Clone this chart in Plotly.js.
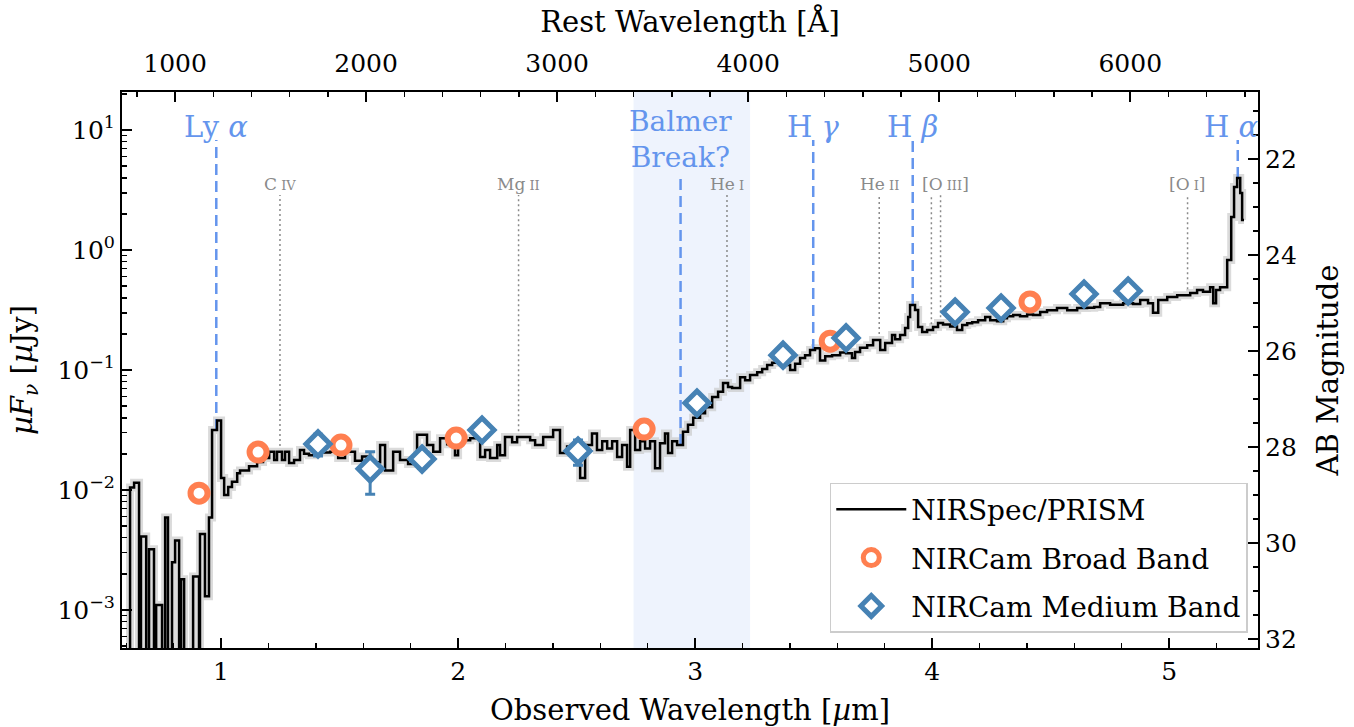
<!DOCTYPE html>
<html>
<head>
<meta charset="utf-8">
<script src="https://cdn.plot.ly/plotly-3.0.1.min.js"></script>
<style>html,body{margin:0;padding:0;background:#fff}#chart{width:1354px;height:727px}</style>
</head>
<body>
<div id="chart"></div>
<script>
// ---------------- data ----------------
const redshift = 7.06;

// NIRSpec/PRISM spectrum (observed wavelength in micron, flux in microJy), step starts
const specWave = [
  0.582, 0.616, 0.633, 0.654, 0.662, 0.684, 0.696, 0.717, 0.726, 0.751,
  0.764, 0.776, 0.793, 0.806, 0.823, 0.831, 0.844, 0.882, 0.907, 0.911,
  0.932, 0.949, 0.962, 0.983, 1.000, 1.013, 1.030, 1.046, 1.068, 1.080,
  1.118, 1.152, 1.177, 1.203, 1.224, 1.236, 1.257, 1.270, 1.287, 1.308,
  1.333, 1.350, 1.371, 1.397, 1.426, 1.460, 1.494, 1.523, 1.565, 1.595,
  1.629, 1.671, 1.692, 1.726, 1.755, 1.789, 1.827, 1.869, 1.895, 1.924,
  1.954, 1.987, 2.000, 2.051, 2.093, 2.114, 2.135, 2.165, 2.177, 2.198,
  2.228, 2.249, 2.304, 2.325, 2.359, 2.401, 2.430, 2.460, 2.494, 2.515,
  2.536, 2.565, 2.586, 2.608, 2.629, 2.650, 2.671, 2.692, 2.713, 2.726,
  2.747, 2.768, 2.789, 2.810, 2.831, 2.852, 2.873, 2.886, 2.903, 2.924,
  2.949, 2.970, 2.992, 3.021, 3.042, 3.072, 3.097, 3.118, 3.139, 3.156,
  3.190, 3.211, 3.232, 3.262, 3.283, 3.304, 3.325, 3.359, 3.380, 3.401,
  3.422, 3.443, 3.464, 3.485, 3.506, 3.527, 3.549, 3.578, 3.612, 3.637,
  3.662, 3.675, 3.696, 3.726, 3.751, 3.781, 3.802, 3.831, 3.844, 3.865,
  3.886, 3.899, 3.907, 3.928, 3.941, 3.958, 3.979, 4.004, 4.025, 4.046,
  4.076, 4.105, 4.127, 4.148, 4.169, 4.194, 4.224, 4.245, 4.274, 4.300,
  4.316, 4.342, 4.371, 4.401, 4.426, 4.456, 4.485, 4.527, 4.570, 4.612,
  4.654, 4.684, 4.709, 4.751, 4.806, 4.848, 4.878, 4.911, 4.932, 4.954,
  4.992, 5.034, 5.089, 5.118, 5.143, 5.173, 5.186, 5.198, 5.215, 5.245,
  5.262, 5.274, 5.287, 5.300, 5.308, 5.316
];
const specFlux = [
  1e-5, 0.0105, 0.0115, 1e-5, 0.0041, 1e-5, 0.0032, 1e-5, 0.0011, 1e-5,
  0.0059, 1e-5, 0.0025, 0.0038, 1e-5, 0.0018, 1e-5, 0.0019, 1e-5, 0.0043,
  0.0013, 0.0059, 0.0316, 0.0380, 0.0126, 0.0091, 0.0106, 0.0117, 0.0138, 0.0145,
  0.0158, 0.0171, 0.0185, 0.0208, 0.0178, 0.0208, 0.0178, 0.0208, 0.0168, 0.0178,
  0.0215, 0.0200, 0.0195, 0.0210, 0.0205, 0.0208, 0.0185, 0.0208, 0.0175, 0.0190,
  0.0170, 0.0237, 0.0145, 0.0208, 0.0178, 0.0165, 0.0288, 0.0237, 0.0208, 0.0270,
  0.0240, 0.0195, 0.0260, 0.0270, 0.0188, 0.0215, 0.0185, 0.0237, 0.0195, 0.0276,
  0.0250, 0.0276, 0.0260, 0.0237, 0.0276, 0.0316, 0.0203, 0.0230, 0.0215, 0.0126,
  0.0237, 0.0296, 0.0215, 0.0255, 0.0222, 0.0255, 0.0188, 0.0237, 0.0156, 0.0316,
  0.0215, 0.0255, 0.0222, 0.0255, 0.0152, 0.0245, 0.0296, 0.0203, 0.0255, 0.0237,
  0.0306, 0.0350, 0.0400, 0.0437, 0.0490, 0.0596, 0.0660, 0.0780, 0.0720, 0.0708,
  0.0870, 0.0820, 0.0910, 0.0960, 0.1020, 0.1100, 0.1150, 0.1200, 0.1100, 0.1000,
  0.1130, 0.1260, 0.1330, 0.1470, 0.1520, 0.1200, 0.1300, 0.1330, 0.1400, 0.1380,
  0.1260, 0.1410, 0.1530, 0.1610, 0.1780, 0.1470, 0.1680, 0.1960, 0.1800, 0.1960,
  0.2240, 0.2770, 0.3480, 0.3160, 0.2280, 0.2070, 0.2150, 0.2280, 0.2460, 0.2400,
  0.2300, 0.2150, 0.2370, 0.2450, 0.2500, 0.2600, 0.2770, 0.2600, 0.2550, 0.2700,
  0.2800, 0.2880, 0.2800, 0.2900, 0.2880, 0.3040, 0.3150, 0.3290, 0.3150, 0.3290,
  0.3300, 0.3350, 0.3600, 0.3500, 0.3600, 0.3550, 0.3830, 0.3600, 0.3000, 0.3830,
  0.4060, 0.4200, 0.4380, 0.4640, 0.4500, 0.4900, 0.3600, 0.4640, 0.4900, 0.8250,
  1.8800, 3.3500, 3.9800, 2.9900, 1.7800, 1.7800
];

// NIRCam broad-band photometry
const bbWave = [0.907, 1.156, 1.506, 1.992, 2.785, 3.570, 4.413];
const bbFlux = [0.0094, 0.0207, 0.0237, 0.0271, 0.0322, 0.174, 0.369];

// NIRCam medium-band photometry
const mbWave = [1.409, 1.629, 1.848, 2.101, 2.506, 3.008, 3.371, 3.637, 4.097, 4.291, 4.641, 4.827];
const mbFlux = [0.0242, 0.0150, 0.0181, 0.0316, 0.0211, 0.053, 0.133, 0.185, 0.304, 0.329, 0.430, 0.455];
const mbErr  = [0.005, 0.0058, 0.003, 0.003, 0.005, 0.004, 0.006, 0.008, 0.010, 0.010, 0.012, 0.012];

// Strong features (rest-frame Angstrom)
const strongNames = ['Ly <i>α</i>', 'Balmer<br>Break?', 'H <i>γ</i>', 'H <i>β</i>', 'H <i>α</i>'];
const strongRest  = [1215.67, 3646.0, 4340.47, 4861.33, 6562.8];

// Weak lines (rest-frame Angstrom)
const weakRest = [1549.0, 2798.0, 3889.0, 4686.0, 4959.0, 5007.0, 6300.0];
const weakLabels = ['C IV', 'Mg II', 'He I', 'He II', '[O III]', '[O I]'];
const weakLabelRest = [1549.0, 2798.0, 3889.0, 4686.0, 5007.0, 6300.0];

// Shaded Balmer break region (rest-frame Angstrom)
const balmerRegionRest = [3400, 4010];

// ---------------- helpers ----------------
const zf = 1 + redshift;
const obs = r => r * zf / 1e4;
function fluxAt(l) {
  let v = specFlux[0];
  for (let i = 0; i < specWave.length; i++) { if (specWave[i] <= l) v = specFlux[i]; }
  return v;
}
function smallCaps(label) {
  const m = label.match(/^(\[?[A-Za-z]+?)\s([IV]+)(\]?)$/);
  if (!m) return label;
  return m[1] + '<span style="font-size:13px"> ' + m[2] + '</span>' + m[3];
}

const xRange = [0.582, 5.375];
const yLogRange = [-3.317, 1.317];
const restRange = xRange.map(v => v / zf * 1e4);
const magRange = yLogRange.map(v => 23.9 - 2.5 * v);

const serif = 'DejaVu Serif';
const blue = '#6495ED';
const grey = '#8a8a8a';

const traces = [];

// error band (grey, behind)
traces.push({
  x: specWave, y: specFlux, type: 'scatter', mode: 'lines',
  line: {shape: 'hv', color: 'rgba(200,200,200,0.65)', width: 8},
  hoverinfo: 'skip', showlegend: false
});

// strong line markers
strongRest.forEach((r, i) => {
  const l = obs(r);
  const top = (i === 1) ? Math.pow(10, 0.608) : Math.pow(10, 0.917);
  traces.push({
    x: [l, l], y: [fluxAt(l), top], type: 'scatter', mode: 'lines',
    line: {color: blue, width: 2.5, dash: '11px,6px'},
    hoverinfo: 'skip', showlegend: false
  });
});
// weak line markers
weakRest.forEach(r => {
  const l = obs(r);
  traces.push({
    x: [l, l], y: [fluxAt(l) * 1.12, Math.pow(10, 0.458)], type: 'scatter', mode: 'lines',
    line: {color: grey, width: 1.5, dash: '2px,3px'},
    hoverinfo: 'skip', showlegend: false
  });
});

// spectrum
traces.push({
  x: specWave, y: specFlux, type: 'scatter', mode: 'lines', name: 'NIRSpec/PRISM',
  line: {shape: 'hv', color: 'black', width: 2.5}, legendgroup: 'a'
});
// broad band
traces.push({
  x: bbWave, y: bbFlux, type: 'scatter', mode: 'markers', name: 'NIRCam Broad Band',
  marker: {symbol: 'circle', size: 17, color: 'white', line: {color: '#ff7f50', width: 6}},
  legendgroup: 'b'
});
// medium band
traces.push({
  x: mbWave, y: mbFlux, type: 'scatter', mode: 'markers', name: 'NIRCam Medium Band',
  marker: {symbol: 'diamond', size: 18.5, color: 'white', line: {color: '#4682b4', width: 5}},
  error_y: {type: 'data', array: mbErr, color: '#4682b4', thickness: 3, width: 5},
  legendgroup: 'c'
});
// invisible trace for secondary axes
traces.push({
  x: restRange, y: magRange, xaxis: 'x2', yaxis: 'y2', type: 'scatter', mode: 'markers',
  marker: {opacity: 0}, hoverinfo: 'skip', showlegend: false
});

const annotations = [];
strongRest.forEach((r, i) => {
  annotations.push({
    x: obs(r) + (i === 4 ? -0.03 : 0), y: (i === 1) ? 0.917 : 1.025, xref: 'x', yref: 'y', text: strongNames[i],
    showarrow: false, xanchor: 'center', yanchor: 'middle',
    font: {family: serif, size: (i === 1) ? 28 : 29, color: blue}
  });
});
weakLabelRest.forEach((r, i) => {
  annotations.push({
    x: obs(r) + (i === 4 ? 0.02 : 0), y: 0.55, xref: 'x', yref: 'y', text: smallCaps(weakLabels[i]),
    showarrow: false, xanchor: 'center', yanchor: 'middle',
    font: {family: serif, size: 17, color: grey}
  });
});

const axisCommon = {
  showline: true, linewidth: 2, linecolor: 'black', mirror: false,
  showgrid: false, zeroline: false, ticks: 'inside', ticklen: 10, tickwidth: 2, tickcolor: 'black',
  tickfont: {family: serif, size: 25, color: 'black'}
};
const minorCommon = {ticks: 'inside', ticklen: 5, tickwidth: 1.5, tickcolor: 'black', showgrid: false};

const layout = {
  width: 1354, height: 727,
  margin: {l: 122, r: 96, t: 92, b: 79},
  paper_bgcolor: 'white', plot_bgcolor: 'white',
  font: {family: serif, color: 'black', size: 25},
  showlegend: true,
  hovermode: false,
  xaxis: Object.assign({}, axisCommon, {
    range: xRange, tick0: 0, dtick: 1,
    minor: Object.assign({dtick: 0.2}, minorCommon),
    title: {text: 'Observed Wavelength [<i>µ</i>m]', font: {family: serif, size: 29}, standoff: 20}
  }),
  xaxis2: Object.assign({}, axisCommon, {
    overlaying: 'x', side: 'top', anchor: 'y', range: restRange, tick0: 0, dtick: 1000,
    ticklabelstandoff: 8,
    minor: Object.assign({dtick: 200}, minorCommon),
    title: {text: 'Rest Wavelength [Å]', font: {family: serif, size: 29}, standoff: 8}
  }),
  yaxis: Object.assign({}, axisCommon, {
    type: 'log', range: yLogRange,
    tickmode: 'array',
    tickvals: [0.001, 0.01, 0.1, 1, 10],
    ticktext: ['10<sup>−3</sup>', '10<sup>−2</sup>', '10<sup>−1</sup>', '10<sup>0</sup>', '10<sup>1</sup>'],
    minor: Object.assign({dtick: 'D1'}, minorCommon),
    title: {text: '<i>µF</i><sub><i>ν</i></sub> [<i>µ</i>Jy]', font: {family: serif, size: 29}, standoff: 16}
  }),
  yaxis2: Object.assign({}, axisCommon, {
    overlaying: 'y', side: 'right', anchor: 'x', range: magRange, tick0: 0, dtick: 2,
    minor: Object.assign({dtick: 0.5}, minorCommon),
    title: {text: 'AB Magnitude', font: {family: serif, size: 29}, standoff: 22}
  }),
  legend: {
    x: 0.991, y: 0.027, xanchor: 'right', yanchor: 'bottom',
    bgcolor: 'rgba(255,255,255,0.85)', bordercolor: '#cccccc', borderwidth: 1.5,
    font: {family: serif, size: 28, color: 'black'},
    tracegroupgap: 9, itemwidth: 70, traceorder: 'grouped'
  },
  shapes: [{
    type: 'rect', xref: 'x', yref: 'paper',
    x0: obs(balmerRegionRest[0]), x1: obs(balmerRegionRest[1]), y0: 0, y1: 1,
    fillcolor: 'rgba(100,149,237,0.11)', line: {width: 0}, layer: 'below'
  }],
  annotations: annotations
};

Plotly.newPlot('chart', traces, layout, {displayModeBar: false, staticPlot: true});
</script>
</body>
</html>
